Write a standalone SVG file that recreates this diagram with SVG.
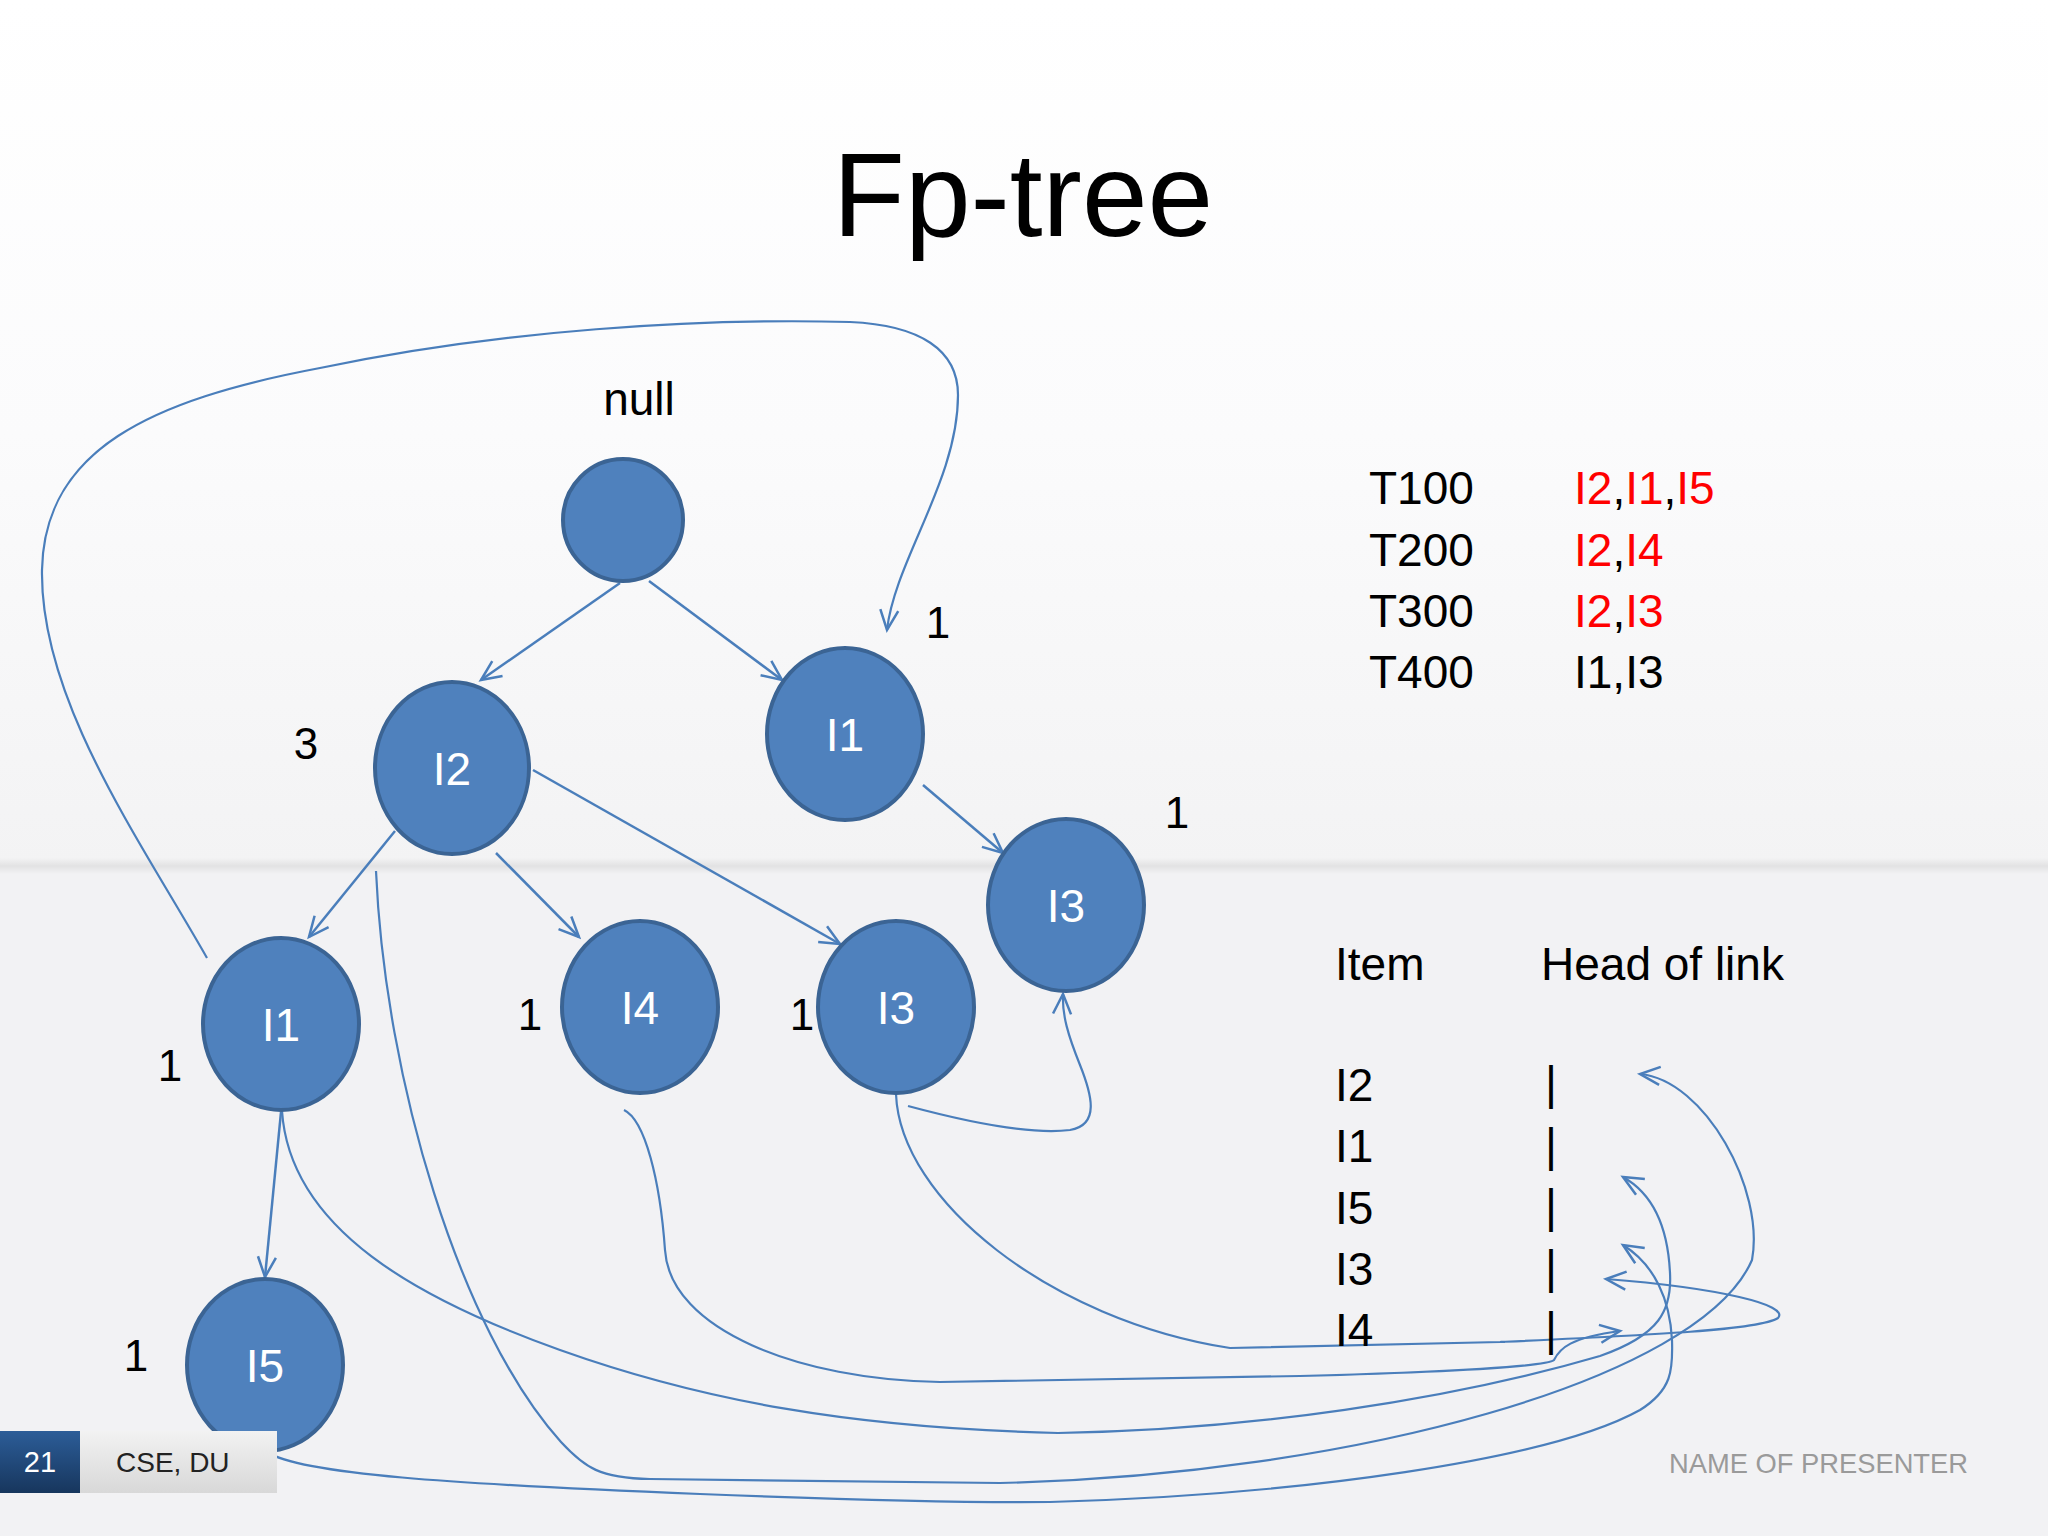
<svg xmlns="http://www.w3.org/2000/svg" width="2048" height="1536" viewBox="0 0 2048 1536">
<defs>
<linearGradient id="bgTop" x1="0" y1="0" x2="0" y2="1">
<stop offset="0" stop-color="#ffffff"/>
<stop offset="0.5" stop-color="#fbfbfc"/>
<stop offset="1" stop-color="#f3f3f4"/>
</linearGradient>
<linearGradient id="band" x1="0" y1="0" x2="0" y2="1">
<stop offset="0" stop-color="#f3f3f4"/>
<stop offset="0.5" stop-color="#e2e2e3"/>
<stop offset="1" stop-color="#f2f2f4"/>
</linearGradient>
<linearGradient id="numBox" x1="0" y1="0" x2="0" y2="1">
<stop offset="0" stop-color="#2c5d98"/>
<stop offset="1" stop-color="#17365d"/>
</linearGradient>
<linearGradient id="grayBox" x1="0" y1="0" x2="0" y2="1">
<stop offset="0" stop-color="#f2f2f2"/>
<stop offset="1" stop-color="#d8d8d8"/>
</linearGradient>
<marker id="arr" markerUnits="userSpaceOnUse" markerWidth="26" markerHeight="24" viewBox="-23 -12 26 24" refX="0" refY="0" orient="auto">
<path d="M-20,-9 L0,0 L-20,9" fill="none" stroke="#4a7ebb" stroke-width="2.5"/>
</marker>
<style>
.t{font-family:"Liberation Sans",Arial,sans-serif;}
.lbl{font-size:46px;fill:#000}
.cnt{font-size:44px;fill:#000;text-anchor:middle}
.nl{font-size:46px;fill:#fff;text-anchor:middle}
.red{fill:#ff0000}
.node{fill:#4f81bd;stroke:#3b6494;stroke-width:4}
.edge{fill:none;stroke:#4a7ebb;stroke-width:2.5;marker-end:url(#arr)}
.link{fill:none;stroke:#4a7ebb;stroke-width:2.2;marker-end:url(#arr)}
</style>
</defs>

<g id="background">
<rect x="0" y="0" width="2048" height="866" fill="url(#bgTop)"/>
<rect x="0" y="858" width="2048" height="16" fill="url(#band)"/>
<rect x="0" y="874" width="2048" height="662" fill="#f2f2f4"/>
</g>

<text id="title" class="t" x="1023" y="236" font-size="118" text-anchor="middle" fill="#000">Fp-tree</text>

<g id="labels" class="t">
<text class="lbl" x="639" y="415" text-anchor="middle">null</text>
<text class="cnt" x="938" y="638">1</text>
<text class="cnt" x="306" y="759">3</text>
<text class="cnt" x="1177" y="828">1</text>
<text class="cnt" x="530" y="1030">1</text>
<text class="cnt" x="802" y="1030">1</text>
<text class="cnt" x="170" y="1081">1</text>
<text class="cnt" x="136" y="1371">1</text>
</g>

<g id="connectors">
<line class="edge" x1="620" y1="583" x2="481" y2="680"/>
<line class="edge" x1="649" y1="581" x2="782" y2="680"/>
<line class="edge" x1="395" y1="831" x2="309" y2="937"/>
<line class="edge" x1="496" y1="853" x2="579" y2="937"/>
<line class="edge" x1="533" y1="770" x2="840" y2="944"/>
<line class="edge" x1="923" y1="785" x2="1003" y2="853"/>
<line class="edge" x1="281" y1="1112" x2="265" y2="1277"/>
<path class="link" d="M207,958 C140,840 40,700 42,570 C44,450 150,400 320,368 C500,330 700,318 850,322 C920,325 958,350 958,395 C958,480 895,560 887,630"/>
<path class="link" d="M376,871 C385,1080 460,1330 561,1442 C585,1468 600,1478 650,1479 L1000,1483 C1350,1475 1700,1380 1752,1260 C1765,1190 1705,1080 1640,1074"/>
<path class="link" d="M282,1111 C290,1230 420,1300 560,1350 C700,1400 850,1428 1058,1433 C1250,1430 1450,1400 1600,1356 C1660,1335 1672,1310 1670,1273 C1668,1230 1655,1195 1623,1177"/>
<path class="link" d="M267,1452 C300,1474 450,1484 700,1494 C850,1500 950,1503 1050,1502 C1300,1495 1550,1460 1640,1410 C1672,1390 1673,1370 1672,1340 C1670,1300 1655,1265 1623,1245"/>
<path class="link" d="M624,1110 C645,1120 660,1180 665,1250 C670,1330 800,1380 940,1382 L1300,1376 C1450,1372 1548,1366 1554,1360 C1560,1348 1570,1338 1620,1331"/>
<path class="link" d="M896,1094 C900,1200 1050,1320 1230,1348 L1500,1342 C1650,1335 1760,1330 1778,1318 C1790,1305 1720,1288 1606,1279"/>
<path class="link" d="M908,1106 C960,1120 1030,1135 1070,1130 C1100,1125 1092,1095 1080,1065 C1068,1035 1062,1015 1063,994"/>
</g>

<g id="node-root"><ellipse class="node" cx="623" cy="520" rx="60" ry="61"/></g>
<g id="node-I2"><ellipse class="node" cx="452" cy="768" rx="77" ry="86"/><text class="t nl" x="452" y="785">I2</text></g>
<g id="node-I1a"><ellipse class="node" cx="845" cy="734" rx="78" ry="86"/><text class="t nl" x="845" y="751">I1</text></g>
<g id="node-I3a"><ellipse class="node" cx="1066" cy="905" rx="78" ry="86"/><text class="t nl" x="1066" y="922">I3</text></g>
<g id="node-I1b"><ellipse class="node" cx="281" cy="1024" rx="78" ry="86"/><text class="t nl" x="281" y="1041">I1</text></g>
<g id="node-I4"><ellipse class="node" cx="640" cy="1007" rx="78" ry="86"/><text class="t nl" x="640" y="1024">I4</text></g>
<g id="node-I3b"><ellipse class="node" cx="896" cy="1007" rx="78" ry="86"/><text class="t nl" x="896" y="1024">I3</text></g>
<g id="node-I5"><ellipse class="node" cx="265" cy="1365" rx="78" ry="86"/><text class="t nl" x="265" y="1382">I5</text></g>

<g id="transactions" class="t">
<text class="lbl" x="1369" y="504">T100</text>
<text class="lbl" x="1369" y="566">T200</text>
<text class="lbl" x="1369" y="627">T300</text>
<text class="lbl" x="1369" y="688">T400</text>
<text class="lbl" x="1574" y="504"><tspan class="red">I2</tspan>,<tspan class="red">I1</tspan>,<tspan class="red">I5</tspan></text>
<text class="lbl" x="1574" y="566"><tspan class="red">I2</tspan>,<tspan class="red">I4</tspan></text>
<text class="lbl" x="1574" y="627"><tspan class="red">I2</tspan>,<tspan class="red">I3</tspan></text>
<text class="lbl" x="1574" y="688">I1,I3</text>
</g>

<g id="header-table" class="t">
<text class="lbl" x="1335" y="980">Item</text>
<text class="lbl" x="1541" y="980">Head of link</text>
<text class="lbl" x="1335" y="1101">I2</text>
<text class="lbl" x="1335" y="1162">I1</text>
<text class="lbl" x="1335" y="1224">I5</text>
<text class="lbl" x="1335" y="1285">I3</text>
<text class="lbl" x="1335" y="1346">I4</text>
<text class="lbl" x="1551" y="1099" text-anchor="middle">|</text>
<text class="lbl" x="1551" y="1161" text-anchor="middle">|</text>
<text class="lbl" x="1551" y="1222" text-anchor="middle">|</text>
<text class="lbl" x="1551" y="1283" text-anchor="middle">|</text>
<text class="lbl" x="1551" y="1345" text-anchor="middle">|</text>
</g>

<g id="footer" class="t">
<rect x="0" y="1431" width="80" height="62" fill="url(#numBox)"/>
<rect x="80" y="1431" width="197" height="62" fill="url(#grayBox)"/>
<text x="40" y="1472" font-size="29" fill="#fff" text-anchor="middle">21</text>
<text x="116" y="1472" font-size="28" fill="#222">CSE, DU</text>
<text x="1669" y="1473" font-size="28" fill="#9a9a9a" textLength="299" lengthAdjust="spacingAndGlyphs">NAME OF PRESENTER</text>
</g>
</svg>
